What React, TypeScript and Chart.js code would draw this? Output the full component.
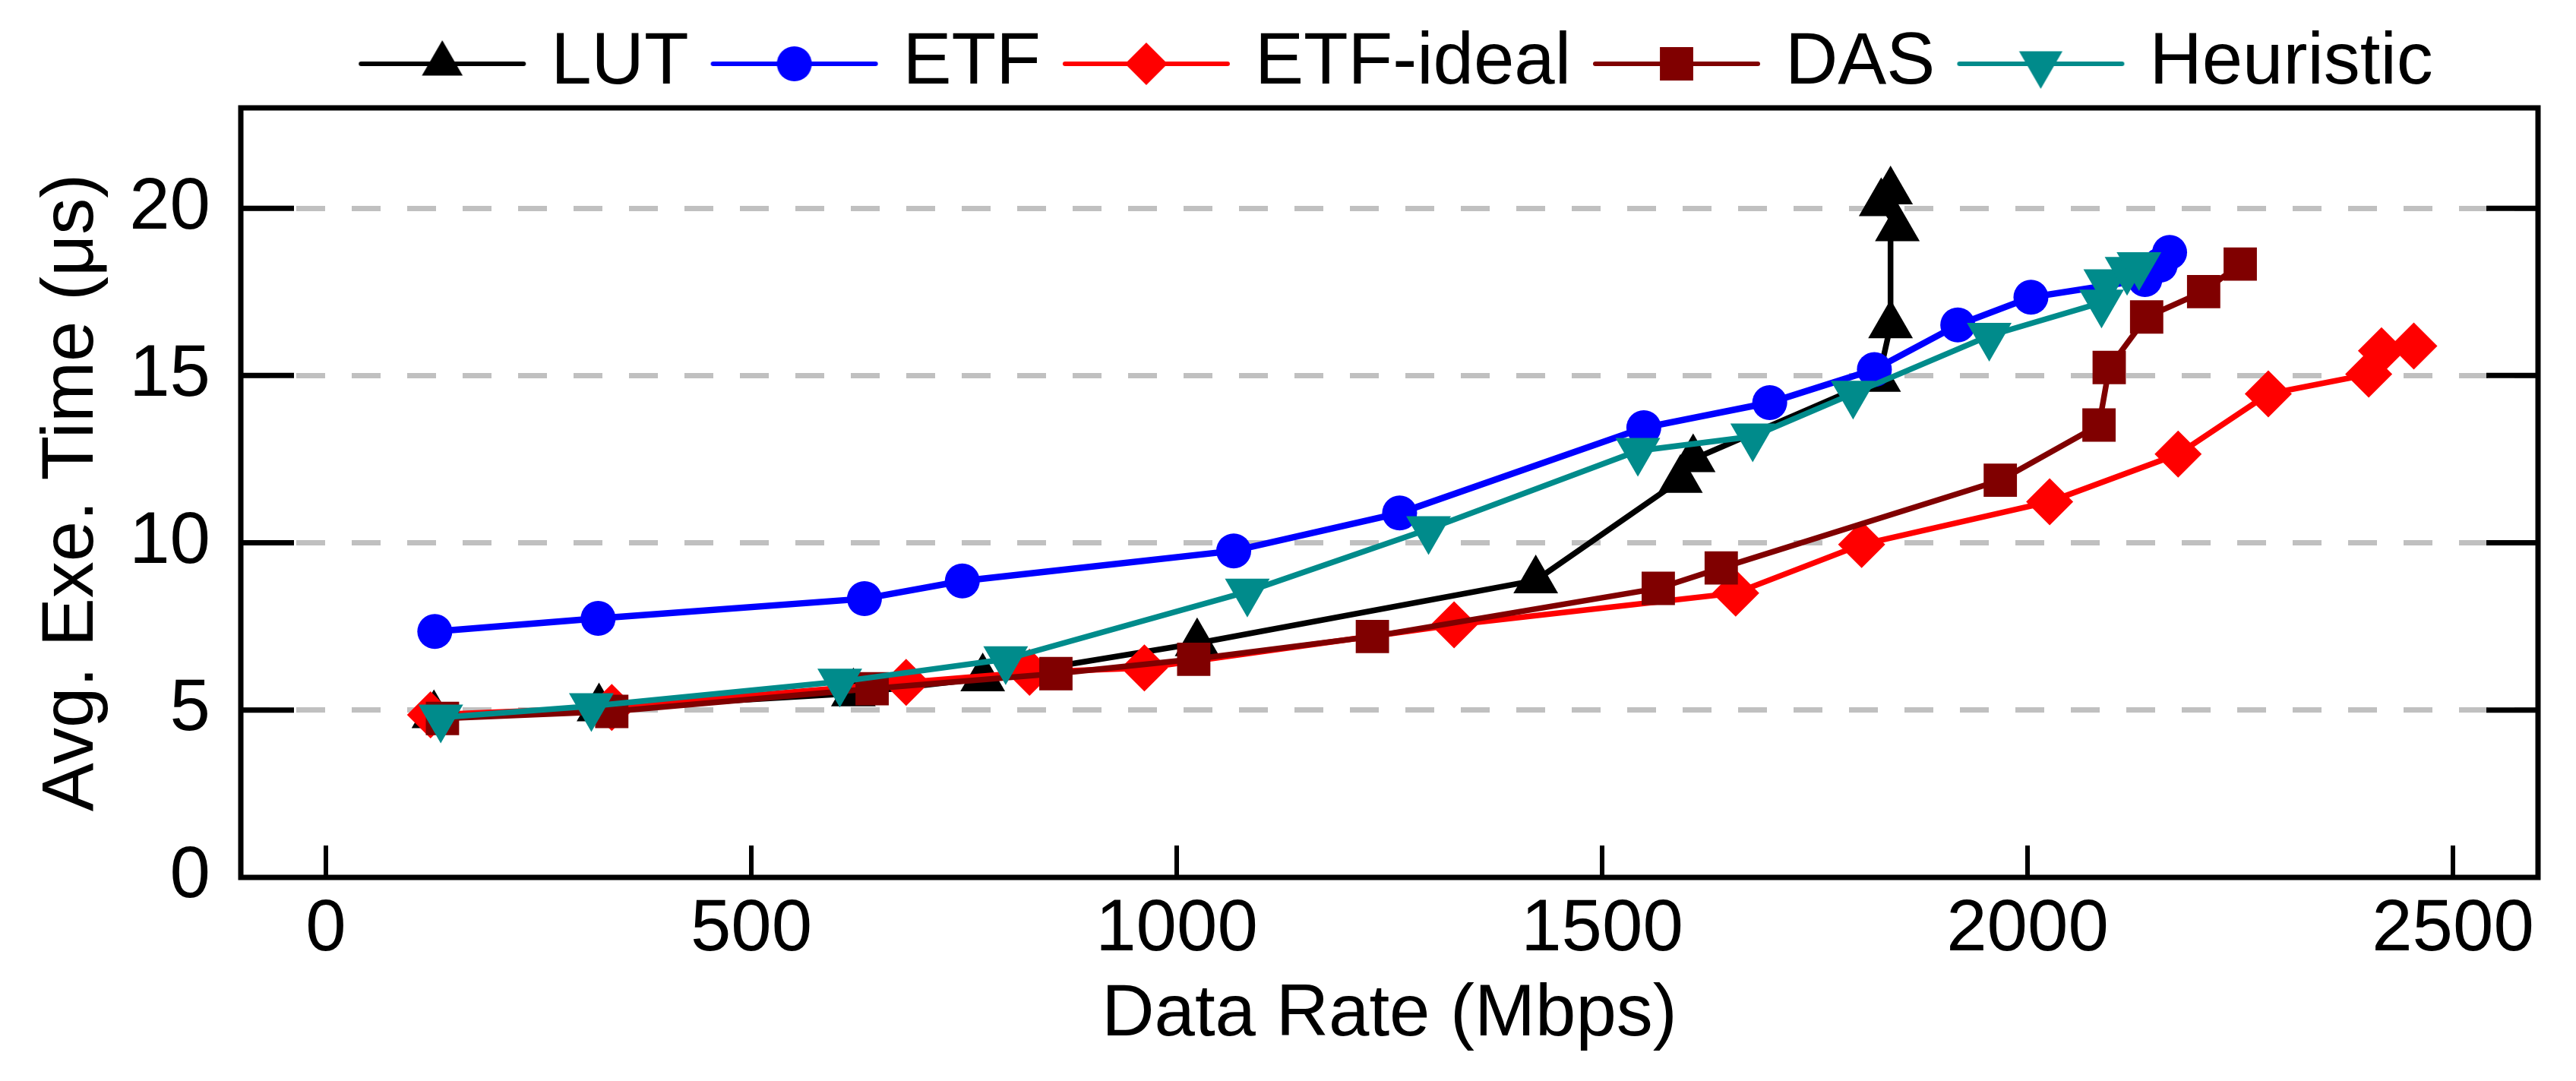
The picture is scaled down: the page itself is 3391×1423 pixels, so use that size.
import { useEffect, useRef } from "react";
import { Chart, registerables } from "chart.js";

Chart.register(...registerables);

// values
const seriesNames = ["LUT", "ETF", "ETF-ideal", "DAS", "Heuristic"];

const lutX = [127, 321, 620, 772, 1024, 1422, 1592, 1607, 1825, 1839, 1839, 1828, 1847];
const lutY = [4.85, 5.05, 5.5, 5.95, 7.0, 8.88, 11.88, 12.5, 14.9, 16.5, 20.5, 20.15, 19.4];

const etfX = [128, 320, 633, 748, 1067, 1262, 1549, 1697, 1820, 1918, 2004, 2138, 2156, 2167];
const etfY = [7.35, 7.74, 8.33, 8.86, 9.76, 10.89, 13.44, 14.19, 15.18, 16.51, 17.34, 17.87, 18.3, 18.68];

const idealX = [123, 336, 682, 827, 962, 1326, 1657, 1805, 2026, 2177, 2283, 2401, 2416, 2454];
const idealY = [4.86, 5.08, 5.83, 6.13, 6.26, 7.55, 8.5, 9.95, 11.23, 12.65, 14.45, 15.04, 15.74, 15.88];

const dasX = [137, 336, 642, 858, 1020, 1230, 1566, 1640, 1968, 2084, 2096, 2140, 2207, 2250];
const dasY = [4.75, 4.96, 5.64, 6.09, 6.52, 7.2, 8.64, 9.25, 11.87, 13.52, 15.24, 16.75, 17.51, 18.33];

const heuX = [135, 312, 604, 799, 1083, 1296, 1542, 1677, 1795, 1955, 2087, 2092, 2117, 2131];
const heuY = [4.78, 5.12, 5.85, 6.52, 8.54, 10.41, 12.75, 13.18, 14.46, 16.19, 17.18, 17.79, 18.16, 18.3];

const xTicks = [0, 500, 1000, 1500, 2000, 2500];
const yTicks = [0, 5, 10, 15, 20];

const FONT = "'Liberation Sans', Arial, Helvetica, sans-serif";

const colors = ["#000000", "#0000ff", "#ff0000", "#800000", "#008b8b"];
const styles = ["triangle", "circle", "rectRot", "rect", "triangleDown"];

function makeSymbol(color: string, style: string, size: number) {
  const c = document.createElement("canvas");
  c.width = 222;
  c.height = 90;
  const g = c.getContext("2d")!;
  const cx = 111;
  const cy = 45;
  g.strokeStyle = color;
  g.lineWidth = 6;
  g.lineCap = "round";
  g.beginPath();
  g.moveTo(4, cy);
  g.lineTo(218, cy);
  g.stroke();
  g.fillStyle = color;
  g.beginPath();
  if (style === "circle") {
    g.arc(cx, cy, size, 0, Math.PI * 2);
  } else if (style === "triangle" || style === "triangleDown") {
    let rad = style === "triangle" ? 0 : Math.PI;
    for (let k = 0; k < 3; k++) {
      const px = cx + Math.sin(rad) * size;
      const py = cy - Math.cos(rad) * size;
      if (k === 0) g.moveTo(px, py);
      else g.lineTo(px, py);
      rad += (Math.PI * 2) / 3;
    }
  } else if (style === "rectRot") {
    g.moveTo(cx - size, cy);
    g.lineTo(cx, cy - size);
    g.lineTo(cx + size, cy);
    g.lineTo(cx, cy + size);
  } else {
    const h = size * Math.SQRT1_2;
    g.rect(cx - h, cy - h, 2 * h, 2 * h);
  }
  g.closePath();
  g.fill();
  return c;
}

// inward ticks + box frame, like the original plot
const framePlugin = {
  id: "frame",
  afterLayout(chart: any) {
    const lg = chart.legend;
    const ca = chart.chartArea;
    if (lg && ca) {
      const dx = (ca.left + ca.right) / 2 + 16 - (lg.left + lg.right) / 2;
      lg.left += dx;
      lg.right += dx;
    }
  },
  afterDraw(chart: any) {
    const { ctx, chartArea: a, scales } = chart;
    ctx.save();
    ctx.strokeStyle = "#000";
    ctx.lineCap = "butt";
    ctx.lineWidth = 7;
    yTicks.forEach((v) => {
      if (v === 0) return;
      const py = scales.y.getPixelForValue(v);
      ctx.beginPath();
      ctx.moveTo(a.left, py);
      ctx.lineTo(a.left + 70, py);
      ctx.moveTo(a.right - 68, py);
      ctx.lineTo(a.right, py);
      ctx.stroke();
    });
    ctx.lineWidth = 6;
    xTicks.forEach((v) => {
      const px = scales.x.getPixelForValue(v);
      ctx.beginPath();
      ctx.moveTo(px, a.bottom);
      ctx.lineTo(px, a.bottom - 42);
      ctx.stroke();
    });
    ctx.lineWidth = 7;
    ctx.strokeRect(a.left, a.top, a.right - a.left, a.bottom - a.top);
    ctx.restore();
  },
};

export default function App() {
  const ref = useRef<HTMLCanvasElement>(null);

  useEffect(() => {
    document.body.style.margin = "0";
    document.body.style.overflow = "hidden";
    if (!ref.current) return;

    const xs = [lutX, etfX, idealX, dasX, heuX];
    const ys = [lutY, etfY, idealY, dasY, heuY];
    const radii = [34, 23, 31, 31, 34];
    const widths = [7.5, 8.5, 7.5, 7.5, 7.5];
    const legendSizes = [31, 23, 28, 31, 33];
    const symbols = seriesNames.map((_, i) => makeSymbol(colors[i], styles[i], legendSizes[i]));

    const datasets = seriesNames.map((name, i) => ({
      label: name,
      data: xs[i].map((x, j) => ({ x, y: ys[i][j] })),
      borderColor: colors[i],
      backgroundColor: colors[i],
      borderWidth: widths[i],
      pointStyle: styles[i] === "triangleDown" ? "triangle" : styles[i],
      pointRotation: styles[i] === "triangleDown" ? 180 : 0,
      pointRadius: radii[i],
      pointBorderWidth: 0,
      pointBackgroundColor: colors[i],
      tension: 0,
      order: seriesNames.length - 1 - i,
    }));

    const chart = new Chart(ref.current, {
      type: "line",
      data: { datasets },
      plugins: [framePlugin],
      options: {
        animation: false,
        responsive: false,
        devicePixelRatio: 1,
        events: [],
        layout: { padding: { top: -8, right: 50, left: 0, bottom: 0 } },
        plugins: {
          tooltip: { enabled: false },
          legend: {
            display: true,
            position: "top",
            labels: {
              usePointStyle: true,
              pointStyleWidth: 190,
              padding: 44,
              color: "#000",
              font: { size: 96, family: FONT },
              generateLabels: () =>
                seriesNames.map((name, i) => ({
                  text: name,
                  pointStyle: symbols[i],
                  fillStyle: colors[i],
                  strokeStyle: colors[i],
                  lineWidth: 0,
                  hidden: false,
                  datasetIndex: i,
                  fontColor: "#000",
                })),
            },
          },
        },
        scales: {
          x: {
            type: "linear",
            min: -100,
            max: 2600,
            afterBuildTicks: (s: any) => {
              s.ticks = xTicks.map((v) => ({ value: v }));
            },
            afterFit: (s: any) => {
              s.height = 268;
            },
            grid: { display: false, drawTicks: false },
            border: { display: false },
            ticks: {
              color: "#000",
              padding: 12,
              maxRotation: 0,
              autoSkip: false,
              font: { size: 96, family: FONT },
              callback: (v: any) => String(v),
            },
            title: {
              display: true,
              text: "Data Rate (Mbps)",
              color: "#000",
              font: { size: 96, family: FONT },
              padding: { top: 0, bottom: 29 },
            },
          },
          y: {
            type: "linear",
            min: 0,
            max: 23,
            afterBuildTicks: (s: any) => {
              s.ticks = yTicks.map((v) => ({ value: v }));
            },
            afterFit: (s: any) => {
              s.width = 317;
            },
            grid: {
              drawTicks: false,
              lineWidth: 7,
              color: (c: any) => (c.tick && c.tick.value === 0 ? "rgba(0,0,0,0)" : "#c0c0c0"),
            },
            border: { display: false, dash: [38, 35] },
            ticks: {
              color: "#000",
              padding: 40,
              font: { size: 96, family: FONT },
              callback: (v: any) => String(v),
            },
            title: {
              display: true,
              text: "Avg. Exe. Time (μs)",
              color: "#000",
              font: { size: 96, family: FONT },
              padding: { top: 38, bottom: 0 },
            },
          },
        },
      },
    });

    return () => {
      chart.destroy();
    };
  }, []);

  return (
    <div style={{ width: 3391, height: 1423 }}>
      <canvas ref={ref} width={3391} height={1423} />
    </div>
  );
}
